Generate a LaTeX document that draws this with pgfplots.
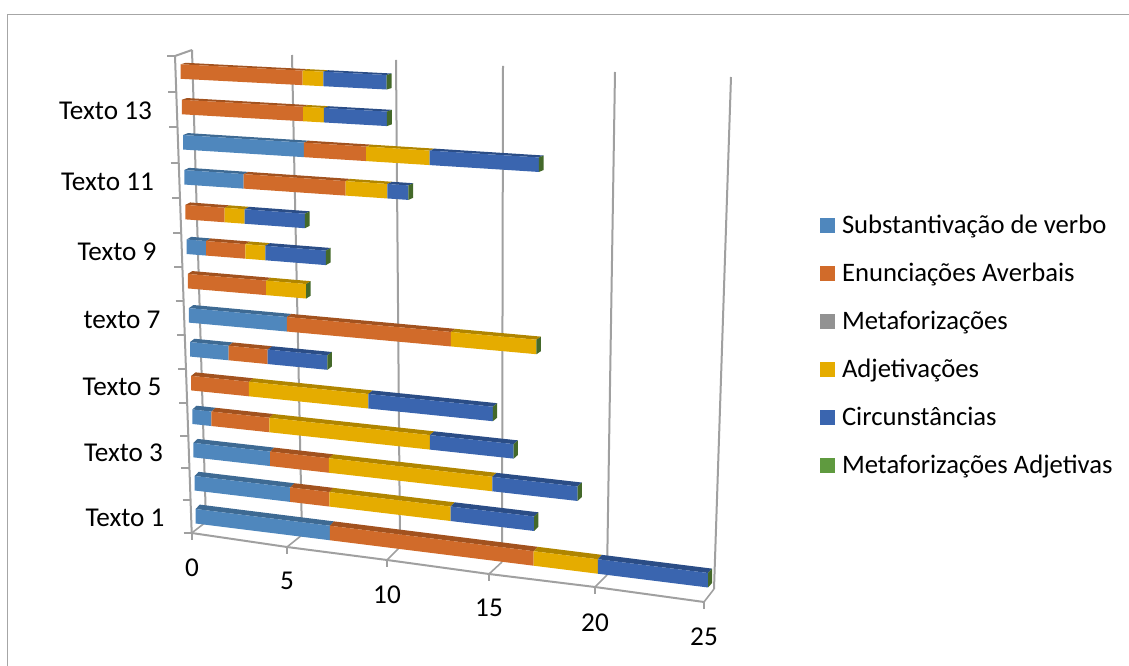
\documentclass[border=0pt]{standalone}
\usepackage{fontspec}
\setmainfont{Carlito}
\usepackage{pgfplots}
\usepackage{pgfplotstable}
\pgfplotsset{compat=1.18}
\definecolor{frm}{HTML}{A6A6A6}
\definecolor{grd}{HTML}{A0A0A0}
\definecolor{cS}{HTML}{4F87BD}\definecolor{tS}{HTML}{3E6A93}
\definecolor{cE}{HTML}{D16B2A}\definecolor{tE}{HTML}{A2521F}
\definecolor{cM}{HTML}{929292}
\definecolor{cA}{HTML}{E5AC00}\definecolor{tA}{HTML}{B08500}
\definecolor{cC}{HTML}{3A65AF}\definecolor{tC}{HTML}{2B4D86}
\definecolor{cG}{HTML}{5F9A3F}\definecolor{tG}{HTML}{44692A}
% one row per category, bottom to top
\pgfplotstableread{
row sub enun meta adj circ madj
1  7 10 0 3 5 0
2  5 2  0 6 4 0
3  4 3  0 8 4 0
4  1 3  0 8 4 0
5  0 3  0 6 6 0
6  2 2  0 0 3 0
7  5 8  0 4 0 0
8  0 4  0 2 0 0
9  1 2  0 1 3 0
10 0 2  0 1 3 0
11 3 5  0 2 1 0
12 6 3  0 3 5 0
13 0 6  0 1 3 0
14 0 6  0 1 3 0
}\datatbl
% projection of (value, row) on the page: perspective of the 3-D chart
\newcommand\proj[4]{% value,row,xmacro,ymacro
  \pgfmathsetmacro\pT{#1/25}%
  \pgfmathsetmacro\pS{\pT/(1+0.095*(1-\pT))}%
  \pgfmathsetmacro\pW{(#2-1)/13}%
  \pgfmathsetmacro\pV{\pW/(1+0.04*(1-\pW))}%
  \pgfmathsetmacro#3{(1-\pV)*(195.7+\pS*512.3)+\pV*(180.7+\pS*544.3)}%
  \pgfmathsetmacro#4{(1-\pV)*(509+\pS*64)+\pV*(64.3+\pS*28.3)}%
  \pgfmathsetmacro\dX{4+\pV}%
  \pgfmathsetmacro\dY{-4.4+2.9*\pV}%
}
\newcommand\seg[5]{% row,from,to,front,top
  \proj{#2}{#1}\xa\ya
  \proj{#3}{#1}\xb\yb
  \pgfmathsetmacro\yaa{\ya+14.5}\pgfmathsetmacro\ybb{\yb+14.5}%
  \pgfmathsetmacro\xat{\xa+\dX}\pgfmathsetmacro\yat{\ya+\dY}%
  \pgfmathsetmacro\xbt{\xb+\dX}\pgfmathsetmacro\ybt{\yb+\dY}%
  \addplot[forget plot,fill=#5,draw=none] coordinates {(\xa,\ya)(\xb,\yb)(\xbt,\ybt)(\xat,\yat)} -- cycle;
  \addplot[forget plot,fill=#4,draw=none] coordinates {(\xa,\ya)(\xb,\yb)(\xb,\ybb)(\xa,\yaa)} -- cycle;
}
\newcommand\capface[2]{% row,value: the end face of the last series
  \proj{#2}{#1}\xb\yb
  \pgfmathsetmacro\ybb{\yb+14.5}%
  \pgfmathsetmacro\xbt{\xb+\dX}\pgfmathsetmacro\ybt{\yb+\dY}\pgfmathsetmacro\ybo{\ybb+\dY}%
  \addplot[forget plot,fill=tG,draw=none] coordinates {(\xb,\yb)(\xbt,\ybt)(\xbt,\ybo)(\xb,\ybb)} -- cycle;
}
\newcommand\getv[2]{\pgfplotstablegetelem{#1}{#2}\of{\datatbl}\pgfmathsetmacro\vv{\pgfplotsretval}}
\begin{document}
\begin{tikzpicture}
\useasboundingbox (0,0) rectangle (846.75pt,499.5pt);
\begin{axis}[
  at={(0,0)},anchor=south west,
  scale only axis,width=846.75pt,height=499.5pt,
  xmin=0,xmax=1129,ymin=0,ymax=666,y dir=reverse,
  hide axis,clip=false,
  legend cell align=left,
  legend style={at={(axis cs:820,214.5)},anchor=north west,draw=none,fill=none,
    inner sep=0pt,outer sep=0pt,row sep=18pt,font=\fontsize{20}{20}\selectfont,
    nodes={inner sep=0pt,text height=14pt,text depth=4pt,anchor=west},
    /tikz/every odd column/.append style={column sep=5.25pt}},
  legend image code/.code={\path[#1,draw=none] (0pt,-4.6pt) rectangle (11.25pt,6.65pt);},
]
% frame
\addplot[forget plot,frm,line width=1pt] coordinates {(7.5,666)(7.5,14.5)(1129,14.5)};
% walls and grid
\addplot[forget plot,grd,line width=1.5pt] coordinates {(292,55)(302,535)};
\addplot[forget plot,grd,line width=1.5pt] coordinates {(396,60)(400,547)};
\addplot[forget plot,grd,line width=1.5pt] coordinates {(503,66)(502,562)};
\addplot[forget plot,grd,line width=1.5pt] coordinates {(615,72)(607,575)};
\addplot[forget plot,grd,line width=1.5pt] coordinates {(731,77)(714,589)};
\addplot[forget plot,grd,line width=1.5pt] coordinates {(192,50)(206,522)};
\addplot[forget plot,grd,line width=1.5pt] coordinates {(175,56)(192,50)};
\addplot[forget plot,grd,line width=1.5pt] coordinates {(175,56)(191.7,533)};
% floor
\addplot[forget plot,grd,line width=1.5pt] coordinates {(191.7,533)(287,547)(387,560)(489,574)(595,587)(704,602)};
\addplot[forget plot,grd,line width=1.2pt] coordinates {(191.7,533)(206,522)};
\addplot[forget plot,grd,line width=1.2pt] coordinates {(287,547)(302,535)};
\addplot[forget plot,grd,line width=1.2pt] coordinates {(387,560)(400,547)};
\addplot[forget plot,grd,line width=1.2pt] coordinates {(489,574)(502,562)};
\addplot[forget plot,grd,line width=1.2pt] coordinates {(595,587)(607,575)};
\addplot[forget plot,grd,line width=1.2pt] coordinates {(704,602)(714,589)};
% value ticks
\addplot[forget plot,grd,line width=1.2pt] coordinates {(191.7,533)(191.7,540)};
\addplot[forget plot,grd,line width=1.2pt] coordinates {(287,547)(287,554)};
\addplot[forget plot,grd,line width=1.2pt] coordinates {(387,560)(387,567)};
\addplot[forget plot,grd,line width=1.2pt] coordinates {(489,574)(489,581)};
\addplot[forget plot,grd,line width=1.2pt] coordinates {(595,587)(595,594)};
\addplot[forget plot,grd,line width=1.2pt] coordinates {(704,602)(704,609)};
% category ticks
\pgfplotsforeachungrouped \yy in {56,92,127,163,198,233,267,301,335,369,403,436,468,500,533}{
  \pgfmathsetmacro\xr{175+(\yy-56)/477*16.7}
  \pgfmathsetmacro\xl{\xr-8}
  \addplot[forget plot,grd,line width=1.2pt] coordinates {(\xl,\yy)(\xr,\yy)};
}
% bars
\pgfplotsforeachungrouped \rowi in {0,...,13}{
  \pgfmathtruncatemacro\rw{\rowi+1}
  \def\cum{0}
  \getv{\rowi}{sub}\ifdim\vv pt>0pt \pgfmathsetmacro\nx{\cum+\vv}\seg{\rw}{\cum}{\nx}{cS}{tS}\let\cum\nx\fi
  \getv{\rowi}{enun}\ifdim\vv pt>0pt \pgfmathsetmacro\nx{\cum+\vv}\seg{\rw}{\cum}{\nx}{cE}{tE}\let\cum\nx\fi
  \getv{\rowi}{meta}\ifdim\vv pt>0pt \pgfmathsetmacro\nx{\cum+\vv}\seg{\rw}{\cum}{\nx}{cM}{cM}\let\cum\nx\fi
  \getv{\rowi}{adj}\ifdim\vv pt>0pt \pgfmathsetmacro\nx{\cum+\vv}\seg{\rw}{\cum}{\nx}{cA}{tA}\let\cum\nx\fi
  \getv{\rowi}{circ}\ifdim\vv pt>0pt \pgfmathsetmacro\nx{\cum+\vv}\seg{\rw}{\cum}{\nx}{cC}{tC}\let\cum\nx\fi
  \capface{\rw}{\cum}
}
% legend
\addlegendimage{fill=cS}\addlegendentry{Substantivação de verbo}
\addlegendimage{fill=cE}\addlegendentry{Enunciações Averbais}
\addlegendimage{fill=cM}\addlegendentry{Metaforizações}
\addlegendimage{fill=cA}\addlegendentry{Adjetivações}
\addlegendimage{fill=cC}\addlegendentry{Circunstâncias}
\addlegendimage{fill=cG}\addlegendentry{Metaforizações Adjetivas}
% labels
\tikzset{lab/.style={font=\fontsize{20.4}{20.4}\selectfont,inner sep=0pt,anchor=center}}
\node[lab] at (axis cs:125,518) {Texto 1};
\node[lab] at (axis cs:123.5,453) {Texto 3};
\node[lab] at (axis cs:122,387) {Texto 5};
\node[lab] at (axis cs:122,320) {texto 7};
\node[lab] at (axis cs:117,252) {Texto 9};
\node[lab] at (axis cs:107.5,182) {Texto 11};
\node[lab] at (axis cs:105.5,111) {Texto 13};
\node[lab] at (axis cs:192,568) {0};
\node[lab] at (axis cs:287,581) {5};
\node[lab] at (axis cs:387,595) {10};
\node[lab] at (axis cs:489,608) {15};
\node[lab] at (axis cs:595,623) {20};
\node[lab] at (axis cs:704,637) {25};
\end{axis}
\end{tikzpicture}
\end{document}
